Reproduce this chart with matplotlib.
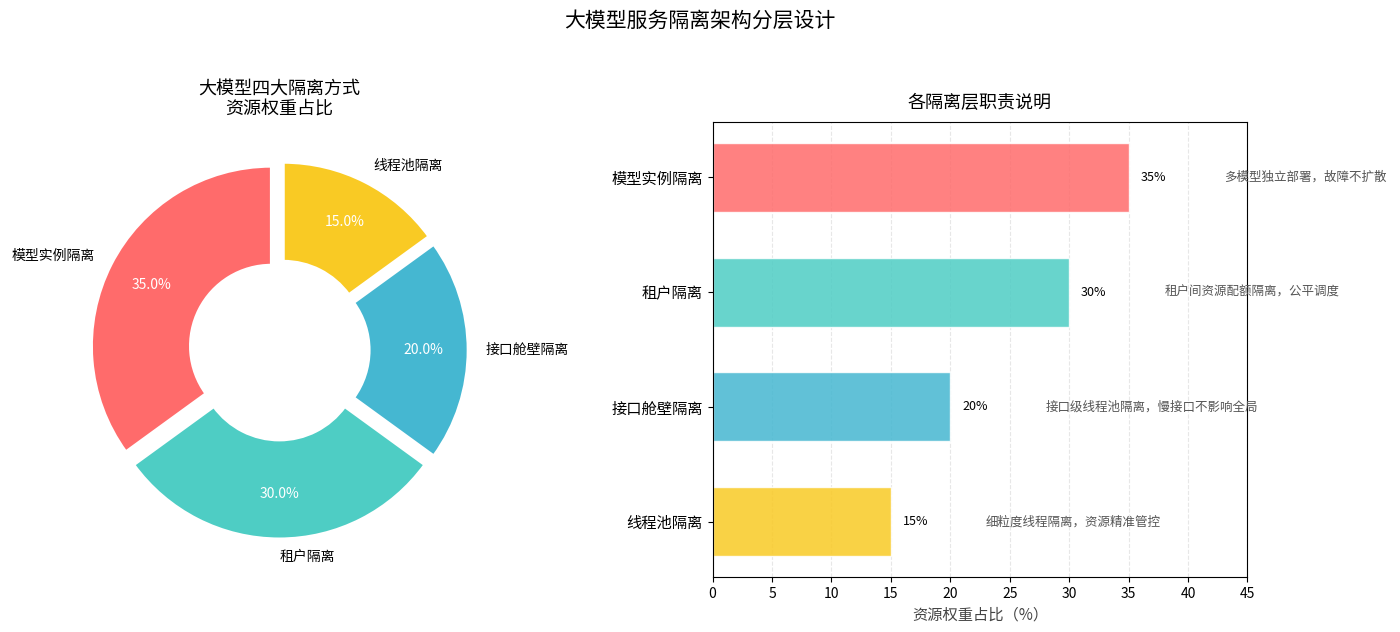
import matplotlib
matplotlib.use("Agg")
from matplotlib import pyplot as plt

plt.rcParams['font.family'] = ['Noto Sans CJK SC', 'DejaVu Sans']
plt.rcParams['axes.unicode_minus'] = False

# data
layers = ["模型实例隔离", "租户隔离", "接口舱壁隔离", "线程池隔离"]
weights = [35, 30, 20, 15]
descriptions = ["多模型独立部署，故障不扩散",
                "租户间资源配额隔离，公平调度",
                "接口级线程池隔离，慢接口不影响全局",
                "细粒度线程隔离，资源精准管控"]
colors = ["#FF6B6B", "#4ECDC4", "#45B7D1", "#F9CA24"]
x_ticks = [0, 5, 10, 15, 20, 25, 30, 35, 40, 45]

fig = plt.figure(figsize=(14, 6.32), dpi=100)
fig.suptitle("大模型服务隔离架构分层设计", fontsize=15, y=0.985)

# donut
ax1 = fig.add_axes([0.039, 0.09, 0.321, 0.712])
wedges, texts, autotexts = ax1.pie(
    weights, labels=layers, colors=colors, autopct="%1.1f%%",
    startangle=90, explode=[0.05] * 4, pctdistance=0.75,
    wedgeprops=dict(width=0.55, edgecolor="white", linewidth=2),
    textprops=dict(fontsize=10))
for t in autotexts:
    t.set_color("white")
    t.set_fontsize(10)
ax1.set_title("大模型四大隔离方式\n资源权重占比", fontsize=13, pad=8)
ax1.set_aspect("equal")

# bars
ax2 = fig.add_axes([0.509, 0.087, 0.382, 0.72])
y = list(range(len(layers)))
ax2.barh(y, weights, height=0.6, color=colors, alpha=0.85, edgecolor="white")
ax2.set_yticks(y)
ax2.set_yticklabels(layers, fontsize=11)
ax2.invert_yaxis()
ax2.set_xlim(0, 45)
ax2.set_xticks(x_ticks)
ax2.tick_params(axis="x", labelsize=10)
ax2.set_xlabel("资源权重占比（%）", fontsize=11, color="#444444")
ax2.set_title("各隔离层职责说明", fontsize=13, pad=10)
ax2.grid(axis="x", linestyle="--", alpha=0.3)
ax2.set_axisbelow(True)
for i, (w, d) in enumerate(zip(weights, descriptions)):
    ax2.text(w + 1, i, f"{w}%", va="center", fontsize=9)
    ax2.text(w + 8, i, d, va="center", fontsize=9, color="#555555")

fig.savefig("out.png", dpi=100)
